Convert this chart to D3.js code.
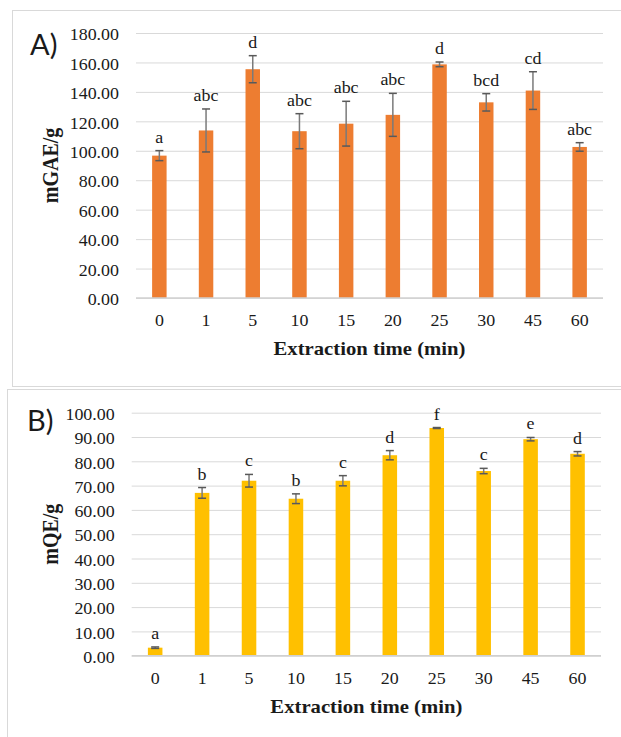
<!DOCTYPE html>
<html>
<head>
<meta charset="utf-8">
<script src="https://cdn.jsdelivr.net/npm/d3@7"></script>
<style>
  body { margin: 0; background: #fff; }
  svg { display: block; }
  text { font-family: "Liberation Serif", "Times New Roman", serif; fill: #1a1a1a; }
</style>
</head>
<body>
<div id="chart"></div>
<script>
// extraction time categories (min)
const times = ["0", "1", "5", "10", "15", "20", "25", "30", "45", "60"];

// panel A: total phenolics, mGAE/g
const phenolMean = [96.7, 113.8, 155.4, 113.3, 118.4, 124.4, 158.7, 132.9, 140.9, 102.6];
const phenolErr = [3.4, 14.6, 9.2, 11.9, 15.2, 14.6, 1.6, 5.9, 12.8, 2.9];
const phenolLetters = ["a", "abc", "d", "abc", "abc", "abc", "d", "bcd", "cd", "abc"];
const phenolTicks = [0, 20, 40, 60, 80, 100, 120, 140, 160, 180];

// panel B: total flavonoids, mQE/g
const flavMean = [3.3, 67.0, 72.0, 64.6, 72.0, 82.5, 93.7, 76.0, 89.1, 83.1];
const flavErr = [0.3, 2.2, 2.6, 2.0, 2.1, 1.9, 0.2, 1.1, 0.7, 0.9];
const flavLetters = ["a", "b", "c", "b", "c", "d", "f", "c", "e", "d"];
const flavTicks = [0, 10, 20, 30, 40, 50, 60, 70, 80, 90, 100];

// the source picture is a bit wider than tall, so serif text gets a horizontal stretch
const K = 1.12;
function stretch(sel) {
    sel.each(function () {
        const t = d3.select(this);
        const x0 = +t.attr("x") || 0;
        t.attr("x", x0 / K).attr("transform", `scale(${K},1)`);
    });
}

const svg = d3.select("#chart").append("svg")
    .attr("width", 621).attr("height", 737);

svg.append("rect").attr("width", 621).attr("height", 737).attr("fill", "#fff");

// panel frames (right edges run off the picture)
svg.append("rect").attr("x", 12.5).attr("y", 10.5).attr("width", 640).attr("height", 376)
    .attr("fill", "none").attr("stroke", "#d9d9d9");
svg.append("rect").attr("x", 7.5).attr("y", 389.5).attr("width", 640).attr("height", 380)
    .attr("fill", "none").attr("stroke", "#d9d9d9");

function drawPanel(opt) {
    const x = d3.scaleBand().domain(times)
        .range([opt.left, opt.right]).paddingInner(0.69).paddingOuter(0.345);
    const y = d3.scaleLinear().domain([0, opt.max]).range([opt.bottom, opt.top]);
    const g = svg.append("g");

    // gridlines + y labels
    const yAxis = g.append("g").attr("transform", `translate(${opt.left},0)`)
        .call(d3.axisLeft(y).tickValues(opt.ticks).tickFormat(d3.format(".2f"))
            .tickSize(-(opt.right - opt.left)).tickPadding(17));
    yAxis.select(".domain").remove();
    yAxis.selectAll("line").attr("stroke", "#d9d9d9");
    yAxis.selectAll("text").attr("dy", "0.42em")
        .style("font-family", "Liberation Serif").style("font-size", "16px").attr("fill", "#1a1a1a")
        .call(stretch);

    // bars
    g.selectAll("rect.bar").data(opt.mean).enter().append("rect")
        .attr("class", "bar")
        .attr("x", (d, i) => x(times[i]))
        .attr("y", d => y(d))
        .attr("width", x.bandwidth())
        .attr("height", d => y(0) - y(d))
        .attr("fill", opt.color);

    // baseline
    g.append("line").attr("x1", opt.left).attr("x2", opt.right)
        .attr("y1", y(0)).attr("y2", y(0))
        .attr("stroke", "#d0d0d0").attr("stroke-width", 1.6);

    // error bars
    const eb = g.selectAll("g.err").data(opt.mean).enter().append("g")
        .attr("transform", (d, i) => `translate(${x(times[i]) + x.bandwidth() / 2},0)`);
    eb.append("line")
        .attr("y1", (d, i) => y(d + opt.err[i]))
        .attr("y2", (d, i) => y(d - opt.err[i]))
        .attr("stroke", "#7a7a7a").attr("stroke-width", 1.5);
    [1, -1].forEach(s => {
        eb.append("line").attr("x1", -4).attr("x2", 4)
            .attr("y1", (d, i) => y(d + s * opt.err[i]))
            .attr("y2", (d, i) => y(d + s * opt.err[i]))
            .attr("stroke", "#595959").attr("stroke-width", 1.5);
    });

    // significance letters
    g.selectAll("text.letter").data(opt.mean).enter().append("text")
        .attr("x", (d, i) => x(times[i]) + x.bandwidth() / 2)
        .attr("y", (d, i) => y(d + opt.err[i]) - 8)
        .attr("text-anchor", "middle")
        .style("font-size", "16px")
        .text((d, i) => opt.letters[i])
        .call(stretch);

    // x labels
    const xAxis = g.append("g").attr("transform", `translate(0,${opt.bottom})`)
        .call(d3.axisBottom(x).tickSize(0).tickPadding(17));
    xAxis.select(".domain").remove();
    xAxis.selectAll("text")
        .style("font-family", "Liberation Serif").style("font-size", "16px").attr("fill", "#1a1a1a")
        .attr("x", 0).call(stretch);

    // axis titles
    g.append("text")
        .attr("x", (opt.left + opt.right) / 2).attr("y", opt.bottom + 57.5)
        .attr("text-anchor", "middle")
        .style("font-size", "18.5px").style("font-weight", "bold")
        .text("Extraction time (min)")
        .call(stretch);
    g.append("text")
        .attr("transform", `translate(58,${(opt.top + opt.bottom) / 2}) rotate(-90) scale(1,${K})`)
        .attr("text-anchor", "middle")
        .style("font-size", "20px").style("font-weight", "bold")
        .text(opt.yTitle);

    // panel letter
    g.append("text")
        .attr("x", opt.tagX).attr("y", opt.tagY)
        .style("font-family", "Lato, 'Liberation Sans', sans-serif")
        .style("font-size", "29px")
        .text(opt.tag);
}

drawPanel({
    left: 136, right: 603, top: 33, bottom: 298, max: 180,
    ticks: phenolTicks, mean: phenolMean, err: phenolErr, letters: phenolLetters,
    color: "#ed7d31", yTitle: "mGAE/g", tag: "A)", tagX: 30, tagY: 55
});

drawPanel({
    left: 131.7, right: 601, top: 412.7, bottom: 655.7, max: 100,
    ticks: flavTicks, mean: flavMean, err: flavErr, letters: flavLetters,
    color: "#ffc000", yTitle: "mQE/g", tag: "B)", tagX: 27, tagY: 431
});
</script>
</body>
</html>
